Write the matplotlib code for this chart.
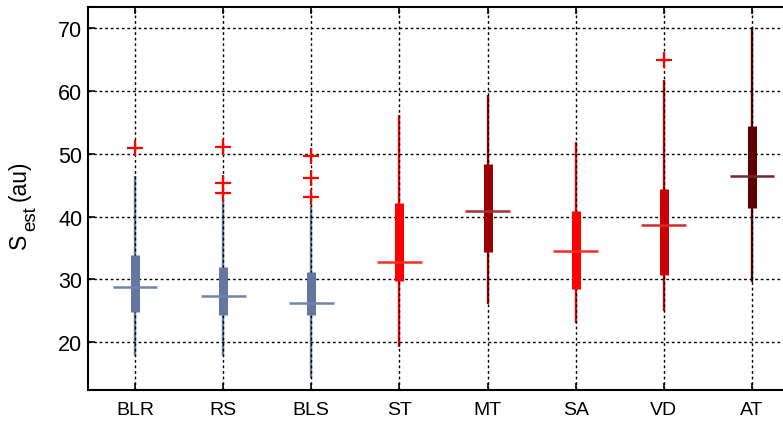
import matplotlib
matplotlib.use("Agg")
import matplotlib.pyplot as plt
import numpy as np

plt.rcParams['font.family'] = ['Liberation Sans', 'DejaVu Sans']

categories = ['BLR', 'RS', 'BLS', 'ST', 'MT', 'SA', 'VD', 'AT']
whisker_low = [17.8, 17.8, 14.3, 19.2, 26.0, 23.1, 24.9, 29.6]
q1 = [24.7, 24.3, 24.3, 29.7, 34.3, 28.4, 30.6, 41.4]
median = [28.7, 27.4, 26.2, 32.8, 40.9, 34.5, 38.6, 46.4]
q3 = [33.8, 32.0, 31.1, 42.2, 48.3, 40.9, 44.4, 54.4]
whisker_high = [46.5, 42.5, 41.7, 56.2, 59.3, 51.8, 61.8, 70.2]
outliers = [[51.0], [51.1, 45.3, 43.7], [49.6, 46.1, 43.1], [], [], [], [65.0], []]
yticks = [20, 30, 40, 50, 60, 70]

box_colors = ['#6577a1', '#6577a1', '#6577a1', '#ff0000', '#990000', '#ff0000', '#cc0000', '#600000']
med_colors = ['#7084ad', '#7084ad', '#7084ad', '#ff2a2a', '#a83030', '#ff2a2a', '#d22a2a', '#6e2a2a']

W, H = 783, 427
fig = plt.figure(figsize=(W / 100, H / 100), dpi=100)
ax = fig.add_axes([88 / W, 36 / H, (799 - 88) / W, (391 - 8) / H])

x = np.arange(1, len(categories) + 1)
ax.grid(True, color='black', linestyle=(0, (2, 2)), linewidth=1.0)
ax.set_axisbelow('line')  # grid at zorder 1.5: over whiskers, under boxes

for i in range(len(categories)):
    ax.vlines(x[i], whisker_low[i], whisker_high[i], color=box_colors[i], lw=1.7, zorder=1)
    ax.vlines(x[i], q1[i], q3[i], color=box_colors[i], lw=6.5, zorder=3)
    ax.hlines(median[i], x[i] - 0.255, x[i] + 0.255, color=med_colors[i], lw=1.8, zorder=4)
    if outliers[i]:
        ax.plot([x[i]] * len(outliers[i]), outliers[i], linestyle='none', marker='+',
                markersize=11, markeredgewidth=1.6, color='#ff0000', zorder=5)

ax.set_xlim(0.467, 8.533)
ax.set_ylim(12.34, 73.4)
ax.set_xticks(x)
ax.set_xticklabels(categories)
ax.set_yticks(yticks)
ax.tick_params(direction='in', length=5, width=1.2, top=True, right=True)
ax.tick_params(axis='x', labelsize=14, pad=8)
ax.tick_params(axis='y', labelsize=15.5, pad=4)
for s in ax.spines.values():
    s.set_linewidth(1.5)

# y-label "S_est (au)" built from pieces (subscript larger than mathtext default)
renderer = fig.canvas.get_renderer()
def piece(txt, xb, ystart, size):
    t = fig.text(xb / W, ystart / H, txt, rotation=90, rotation_mode='anchor',
                 ha='left', va='baseline', fontsize=size)
    bb = t.get_window_extent(renderer)
    return bb.y1

y_end = piece('S', 26, 178, 16.5)
y_end = piece('est', 35, y_end + 3, 13.5)
piece('(au)', 26, y_end + 5, 16.5)

fig.savefig('out.png', dpi=100)
